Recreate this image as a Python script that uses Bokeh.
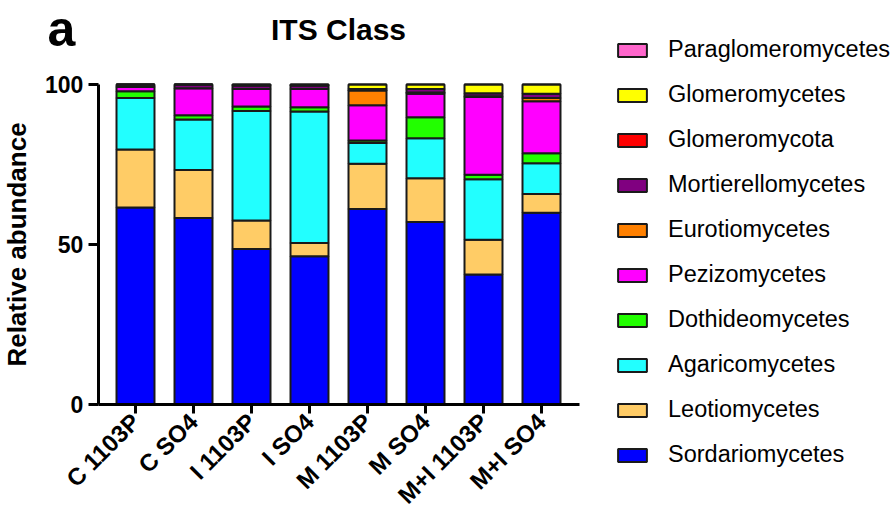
import math
from bokeh.plotting import figure
from bokeh.models import (Range1d, FixedTicker, Legend, LegendItem, Label,
                          ColumnDataSource, LinearAxis)
from bokeh.embed import file_html
from bokeh.resources import INLINE

# ---------------- data ----------------
categories = ["C 1103P", "C SO4", "I 1103P", "I SO4",
              "M 1103P", "M SO4", "M+I 1103P", "M+I SO4"]

# stack order: bottom -> top
classes = ["Sordariomycetes", "Leotiomycetes", "Agaricomycetes",
           "Dothideomycetes", "Pezizomycetes", "Eurotiomycetes",
           "Mortierellomycetes", "Glomeromycota", "Glomeromycetes",
           "Paraglomeromycetes"]

sordariomycetes    = [61.6, 58.3, 48.6, 46.3, 61.1, 57.0, 40.6, 59.9]
leotiomycetes      = [18.1, 15.0,  8.9,  4.2, 14.1, 13.7, 10.9,  5.9]
agaricomycetes     = [16.1, 15.8, 34.2, 41.1,  6.5, 12.5, 18.9,  9.6]
dothideomycetes    = [ 2.1,  1.3,  1.4,  1.3,  0.8,  6.6,  1.4,  3.1]
pezizomycetes      = [ 1.3,  8.4,  5.5,  5.7, 11.0,  7.3, 24.3, 16.3]
eurotiomycetes     = [ 0.0,  0.0,  0.0,  0.0,  4.6,  0.4,  0.2,  1.0]
mortierellomycetes = [ 0.8,  1.2,  1.1,  1.1,  0.5,  1.1,  1.0,  1.3]
glomeromycota      = [ 0.0,  0.0,  0.0,  0.0,  0.0,  0.0,  0.0,  0.0]
glomeromycetes     = [ 0.0,  0.0,  0.3,  0.3,  1.4,  1.4,  2.7,  2.9]
paraglomeromycetes = [ 0.0,  0.0,  0.0,  0.0,  0.0,  0.0,  0.0,  0.0]

colors = ["#0000FF", "#FFCC66", "#22FFFF", "#22FF00", "#FF00FF",
          "#FF8000", "#800080", "#FF0000", "#FFFF00", "#FF66CC"]

y_ticks = [0, 50, 100]

series = [sordariomycetes, leotiomycetes, agaricomycetes, dothideomycetes,
          pezizomycetes, eurotiomycetes, mortierellomycetes, glomeromycota,
          glomeromycetes, paraglomeromycetes]

data = {"x": list(range(len(categories)))}
for name, vals in zip(classes, series):
    data[name] = vals
source = ColumnDataSource(data)

FONT = "Liberation Sans"
W, H = 890, 512
# page layout: category i centred at 135 + 58*i px, value v at 404 - 3.2*v px
X0, DX = 135.0, 58.0
Y0, DY = 404.0, 3.2

p = figure(width=W, height=H, output_backend="svg", toolbar_location=None,
           x_axis_location=None, y_axis_location=None,
           x_range=Range1d(-X0 / DX, (W - X0) / DX),
           y_range=Range1d((Y0 - H) / DY, Y0 / DY),
           min_border=0, min_border_left=0, min_border_right=0,
           min_border_top=0, min_border_bottom=0)
p.title.visible = False
p.xgrid.visible = False
p.ygrid.visible = False
p.outline_line_color = None
p.background_fill_color = "white"
p.border_fill_color = "white"

renderers = p.vbar_stack(classes, x="x", width=0.655, source=source,
                         fill_color=colors, line_color="#1a1a1a",
                         line_width=2)

x_lo, x_hi = -0.64, len(categories) - 1 + 0.655

# y axis
yax = LinearAxis(fixed_location=x_lo, bounds=(0, 100),
                 ticker=FixedTicker(ticks=y_ticks))
yax.axis_line_width = 3
yax.major_tick_line_width = 3
yax.major_tick_out = 10
yax.major_tick_in = 0
yax.minor_tick_line_color = None
yax.major_label_text_font = FONT
yax.major_label_text_font_style = "bold"
yax.major_label_text_font_size = "23px"
yax.major_label_text_color = "black"
yax.major_label_standoff = 5
yax.axis_label = "Relative abundance"
yax.axis_label_text_font = FONT
yax.axis_label_text_font_style = "bold"
yax.axis_label_text_font_size = "26px"
yax.axis_label_text_color = "black"
yax.axis_label_standoff = 10
p.add_layout(yax, "left")

# x axis
xax = LinearAxis(fixed_location=0, bounds=(x_lo, x_hi),
                 ticker=FixedTicker(ticks=list(range(len(categories)))))
xax.major_label_overrides = {i: c for i, c in enumerate(categories)}
xax.axis_line_width = 3
xax.major_tick_line_width = 3
xax.major_tick_out = 9
xax.major_tick_in = 0
xax.minor_tick_line_color = None
xax.major_label_orientation = math.pi / 4
xax.major_label_text_font = FONT
xax.major_label_text_font_style = "bold"
xax.major_label_text_font_size = "24px"
xax.major_label_text_color = "black"
xax.major_label_standoff = 4
p.add_layout(xax, "below")

# legend (top item first)
items = [LegendItem(label=name, renderers=[r])
         for name, r in zip(classes, renderers)][::-1]
legend = Legend(items=items, location=(614, 44), orientation="vertical",
                glyph_width=36, glyph_height=16, label_height=26,
                spacing=18, padding=0, margin=0,
                label_standoff=18,
                label_text_font=FONT, label_text_font_size="23.5px",
                label_text_color="black",
                border_line_color=None, background_fill_alpha=0)
p.add_layout(legend, "center")

# panel letter and title (screen units, measured from bottom-left)
p.add_layout(Label(x=47, y=H - 28, x_units="screen", y_units="screen",
                   text="a", text_font=FONT, text_font_style="bold",
                   text_font_size="50px", text_color="black",
                   text_baseline="alphabetic", text_align="left"))
p.add_layout(Label(x=338, y=H - 29, x_units="screen", y_units="screen",
                   text="ITS Class", text_font=FONT, text_font_style="bold",
                   text_font_size="30px", text_color="black",
                   text_baseline="alphabetic", text_align="center"))

open("out.html", "w").write(file_html(p, INLINE))
